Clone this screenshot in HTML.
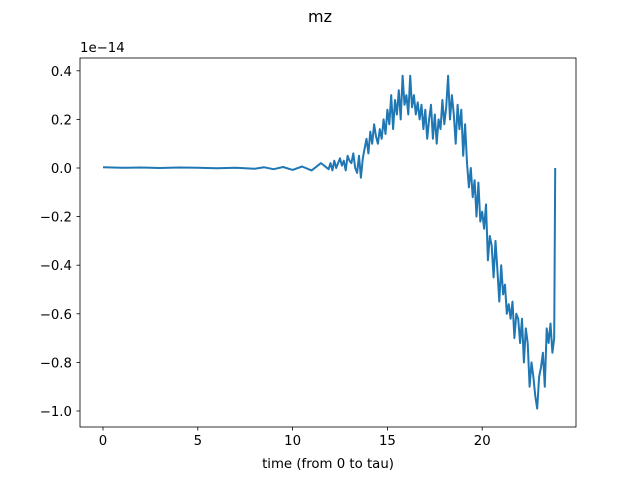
<!DOCTYPE html>
<html><head><meta charset="utf-8"><style>
body{margin:0;background:#fff;font-family:"Liberation Sans","DejaVu Sans",sans-serif}
svg text{font-family:"DejaVu Sans","Liberation Sans",sans-serif;font-size:13.3px;fill:#000}
</style></head><body>
<svg id="c" width="640" height="480">
<text x="320" y="22" text-anchor="middle" style="font-size:16px">mz</text>
<rect x="80" y="58" width="496" height="369" fill="none" stroke="#000" stroke-width="0.8"/>
<text x="80" y="52">1e−14</text>
<text x="328" y="468" text-anchor="middle">time (from 0 to tau)</text>
<g id="ax"></g>
<path id="line" fill="none" stroke="#1f77b4" stroke-width="2" stroke-linejoin="round"/>
</svg>
<script>
const xTicks=[0,5,10,15,20];
const yTicks=[0.4,0.2,0.0,-0.2,-0.4,-0.6,-0.8,-1.0];
const tStart=12, tStep=0.1;
const earlyT=[0,1,2,3,4,5,6,7,8,8.5,9,9.5,10,10.5,11,11.5,11.9];
const earlyV=[0.003,0.001,0.002,0.0,0.002,0.001,-0.001,0.001,-0.003,0.003,-0.005,0.004,-0.008,0.006,-0.01,0.02,-0.005];
const mainV=[0.02,-0.01,0.03,0.0,0.02,0.04,0.01,0.03,-0.01,0.05,0.03,0.02,0.06,0.0,-0.02,0.05,-0.04,0.04,0.08,0.12,0.06,0.15,0.1,0.18,0.13,0.1,0.16,0.12,0.2,0.14,0.24,0.18,0.3,0.16,0.28,0.22,0.32,0.2,0.38,0.26,0.3,0.22,0.38,0.25,0.3,0.22,0.27,0.2,0.26,0.16,0.24,0.12,0.2,0.26,0.12,0.22,0.1,0.2,0.16,0.28,0.18,0.25,0.38,0.2,0.3,0.22,0.1,0.26,0.16,0.24,0.05,0.18,0.02,-0.08,0.0,-0.12,-0.05,-0.2,-0.06,-0.22,-0.18,-0.25,-0.15,-0.38,-0.28,-0.32,-0.45,-0.3,-0.42,-0.55,-0.4,-0.52,-0.48,-0.6,-0.56,-0.62,-0.55,-0.7,-0.6,-0.62,-0.72,-0.62,-0.8,-0.66,-0.72,-0.9,-0.8,-0.86,-0.94,-0.99,-0.86,-0.82,-0.76,-0.9,-0.66,-0.72,-0.64,-0.76,-0.7,0.0];
const X=t=>103+t*18.96, Y=v=>168-v*243;
const ax=document.getElementById('ax');const NS='http://www.w3.org/2000/svg';
xTicks.forEach(t=>{const l=document.createElementNS(NS,'line');


l.setAttribute('x1',X(t));l.setAttribute('x2',X(t));l.setAttribute('y1',427);l.setAttribute('y2',430.5);l.setAttribute('stroke','#000');l.setAttribute('stroke-width','0.8');ax.appendChild(l);
const s=document.createElementNS(NS,'text');


s.setAttribute('x',X(t));s.setAttribute('y',445);s.setAttribute('text-anchor','middle');s.textContent=t;ax.appendChild(s);});
yTicks.forEach(v=>{const l=document.createElementNS(NS,'line');


l.setAttribute('x1',76.5);l.setAttribute('x2',80);l.setAttribute('y1',Y(v));l.setAttribute('y2',Y(v));l.setAttribute('stroke','#000');l.setAttribute('stroke-width','0.8');ax.appendChild(l);
const s=document.createElementNS(NS,'text');


s.setAttribute('x',72);s.setAttribute('y',Y(v)+5);s.setAttribute('text-anchor','end');s.textContent=(v<0?'−':'')+Math.abs(v).toFixed(1);ax.appendChild(s);});
let pts=[];
earlyT.forEach((t,i)=>pts.push([X(t),Y(earlyV[i])]));
mainV.forEach((v,i)=>{let t=tStart+i*tStep;if(i==mainV.length-1)t-=0.05;pts.push([X(t),Y(v)]);});
document.getElementById('line').setAttribute('d','M'+pts.map(p=>p[0].toFixed(1)+','+p[1].toFixed(1)).join('L'));
</script>
</body></html>
